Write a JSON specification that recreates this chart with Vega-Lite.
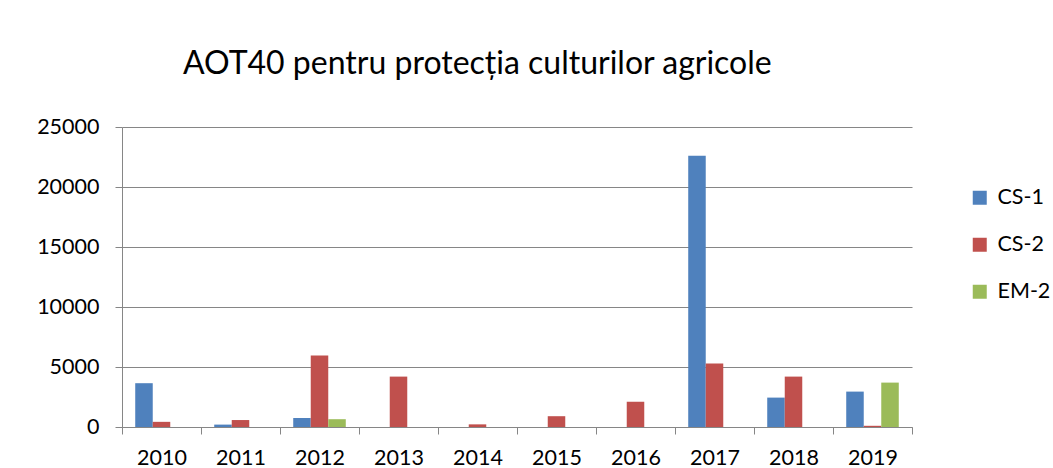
{
  "$schema": "https://vega.github.io/schema/vega-lite/v6.json",
  "width": 790,
  "height": 300,
  "autosize": {"type": "none"},
  "padding": {"left": 122, "top": 127, "right": 141, "bottom": 41},
  "background": "white",
  "title": {
    "text": "AOT40 pentru protecția culturilor agricole",
    "anchor": "start",
    "frame": "group",
    "dx": 61,
    "offset": 35,
    "fontSize": 32,
    "font": "Lato",
    "fontWeight": "normal",
    "color": "black"
  },
  "data": {
    "values": [
      {"year": "2010", "station": "CS-1", "value": 3650},
      {"year": "2010", "station": "CS-2", "value": 430},
      {"year": "2011", "station": "CS-1", "value": 200},
      {"year": "2011", "station": "CS-2", "value": 580},
      {"year": "2012", "station": "CS-1", "value": 750},
      {"year": "2012", "station": "CS-2", "value": 5950},
      {"year": "2012", "station": "EM-2", "value": 650},
      {"year": "2013", "station": "CS-2", "value": 4200},
      {"year": "2014", "station": "CS-2", "value": 220},
      {"year": "2015", "station": "CS-2", "value": 900},
      {"year": "2016", "station": "CS-2", "value": 2100},
      {"year": "2017", "station": "CS-1", "value": 22600},
      {"year": "2017", "station": "CS-2", "value": 5300},
      {"year": "2018", "station": "CS-1", "value": 2450},
      {"year": "2018", "station": "CS-2", "value": 4200},
      {"year": "2019", "station": "CS-1", "value": 2950},
      {"year": "2019", "station": "CS-2", "value": 100},
      {"year": "2019", "station": "EM-2", "value": 3700}
    ]
  },
  "mark": {"type": "bar"},
  "encoding": {
    "x": {
      "field": "year",
      "type": "nominal",
      "scale": {"paddingInner": 0, "paddingOuter": 0},
      "axis": {
        "title": null,
        "labelAngle": 0,
        "tickBand": "extent",
        "domainColor": "#868686",
        "tickColor": "#868686",
        "tickSize": 7,
        "labelPadding": 13,
        "labelFontSize": 21.5,
        "labelFont": "Lato",
        "labelColor": "black",
        "grid": false
      }
    },
    "xOffset": {
      "field": "station",
      "type": "nominal",
      "scale": {"domain": ["CS-1", "CS-2", "EM-2"], "paddingOuter": 0.755, "paddingInner": 0}
    },
    "y": {
      "field": "value",
      "type": "quantitative",
      "scale": {"domain": [0, 25000]},
      "axis": {
        "title": null,
        "values": [0, 5000, 10000, 15000, 20000, 25000],
        "format": "d",
        "gridColor": "#868686",
        "domainColor": "#868686",
        "tickColor": "#868686",
        "tickSize": 7,
        "labelPadding": 16,
        "labelFontSize": 21.5,
        "labelFont": "Lato",
        "labelColor": "black"
      }
    },
    "color": {
      "field": "station",
      "type": "nominal",
      "scale": {"domain": ["CS-1", "CS-2", "EM-2"], "range": ["#4F81BD", "#C0504D", "#9BBB59"]},
      "legend": {
        "title": null,
        "orient": "none",
        "legendX": 847,
        "legendY": 60,
        "symbolType": "square",
        "symbolSize": 196,
        "symbolStrokeWidth": 0,
        "labelFontSize": 21.5,
        "labelFont": "Lato",
        "labelColor": "black",
        "labelOffset": 7,
        "rowPadding": 24
      }
    }
  },
  "config": {"view": {"stroke": null}}
}
